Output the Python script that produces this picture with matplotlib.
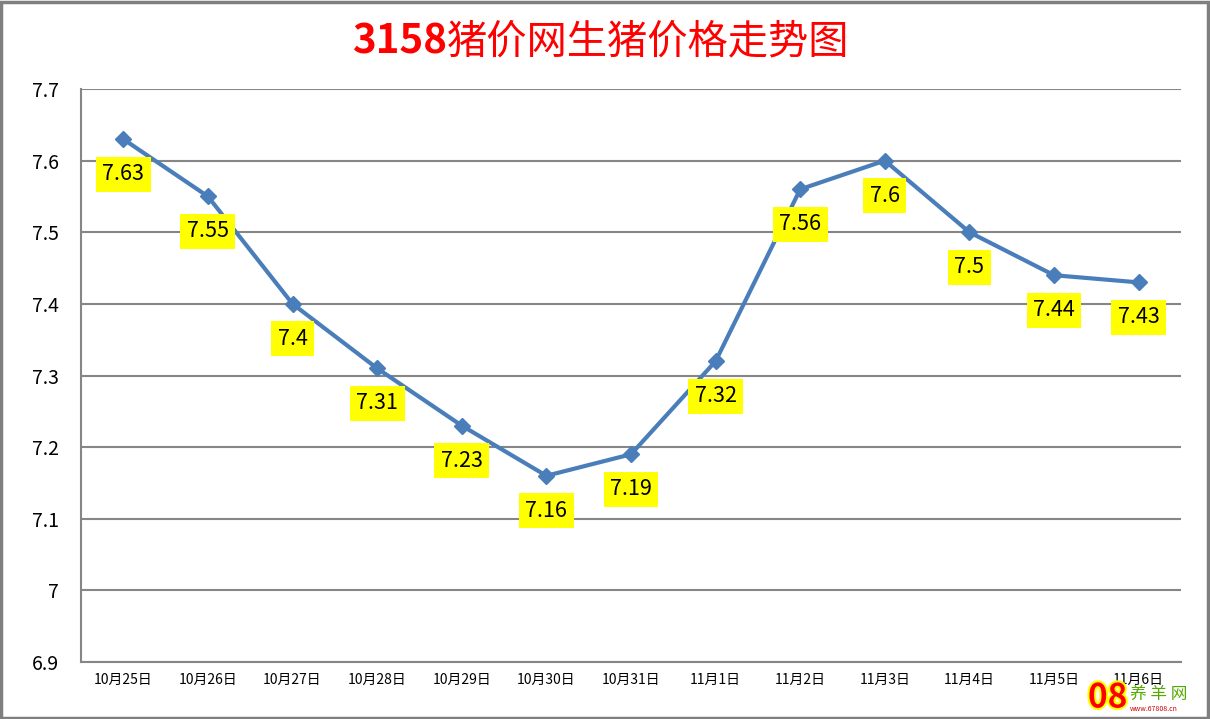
import matplotlib
matplotlib.use("Agg")
import matplotlib.pyplot as plt
import matplotlib.patheffects as pe
from matplotlib.patches import Rectangle

plt.rcParams["font.family"] = ["Noto Sans CJK SC", "DejaVu Sans"]

dates = ["10月25日", "10月26日", "10月27日", "10月28日", "10月29日", "10月30日",
         "10月31日", "11月1日", "11月2日", "11月3日", "11月4日", "11月5日", "11月6日"]
prices = [7.63, 7.55, 7.4, 7.31, 7.23, 7.16, 7.19, 7.32, 7.56, 7.6, 7.5, 7.44, 7.43]
y_ticks = [6.9, 7.0, 7.1, 7.2, 7.3, 7.4, 7.5, 7.6, 7.7]
y_labels = ["6.9", "7", "7.1", "7.2", "7.3", "7.4", "7.5", "7.6", "7.7"]

W, H = 1210, 719
fig = plt.figure(figsize=(W / 100, H / 100), dpi=100)
fig.patches.append(Rectangle((0.001, 0.001), 0.997, 0.996, transform=fig.transFigure,
                             fill=False, edgecolor="#7f7f7f", linewidth=2.5))

ax = fig.add_axes([81 / W, 1 - 662 / H, 1100 / W, 573 / H])
x = list(range(len(dates)))
ax.set_xlim(-0.5, len(dates) - 0.5)
ax.set_ylim(6.9, 7.7)
ax.set_yticks(y_ticks)
ax.set_yticklabels(y_labels, fontsize=14)
ax.set_xticks(x)
ax.set_xticklabels(dates, fontsize=10)
ax.tick_params(length=0)
ax.tick_params(axis="y", pad=16)
ax.tick_params(axis="x", pad=8)
ax.grid(axis="y", color="#868686", linewidth=1.5)
ax.set_axisbelow(True)
for s in ["top", "right"]:
    ax.spines[s].set_visible(False)
for s in ["left", "bottom"]:
    ax.spines[s].set_color("#868686")
    ax.spines[s].set_linewidth(1.5)

ax.plot(x, prices, color="#4a7ebb", linewidth=3, marker="D", markersize=8,
        markerfacecolor="#4a7ebb", markeredgecolor="#4a7ebb", zorder=3)

for xi, p in zip(x, prices):
    ax.annotate(f"{p:g}", (xi, p), xytext=(0, -35), textcoords="offset pixels",
                ha="center", va="center", fontsize=15.5, zorder=4,
                bbox=dict(boxstyle="square,pad=0.3", facecolor="#ffff00", edgecolor="none"))

# title: bold digits, regular Chinese
fig.text(447 / W, 1 - 42 / H, "3158", ha="right", va="center",
         fontsize=29, fontweight="bold", color="#ff0000")
fig.text(447 / W, 1 - 42 / H, "猪价网生猪价格走势图", ha="left", va="center",
         fontsize=29, color="#ff0000")

# watermark
fig.text(1088 / W, 1 - 698 / H, "08", ha="left", va="center", fontsize=24,
         color="#ff0000", fontweight="bold",
         path_effects=[pe.withStroke(linewidth=3, foreground="#ffff00")])
fig.text(1130 / W, 1 - 694 / H, "养 羊 网", ha="left", va="center", fontsize=12,
         color="#55aa00")
fig.text(1130 / W, 1 - 709 / H, "www.67808.cn", ha="left", va="center", fontsize=5,
         color="#cc0000")

fig.savefig("out.png", dpi=100)
